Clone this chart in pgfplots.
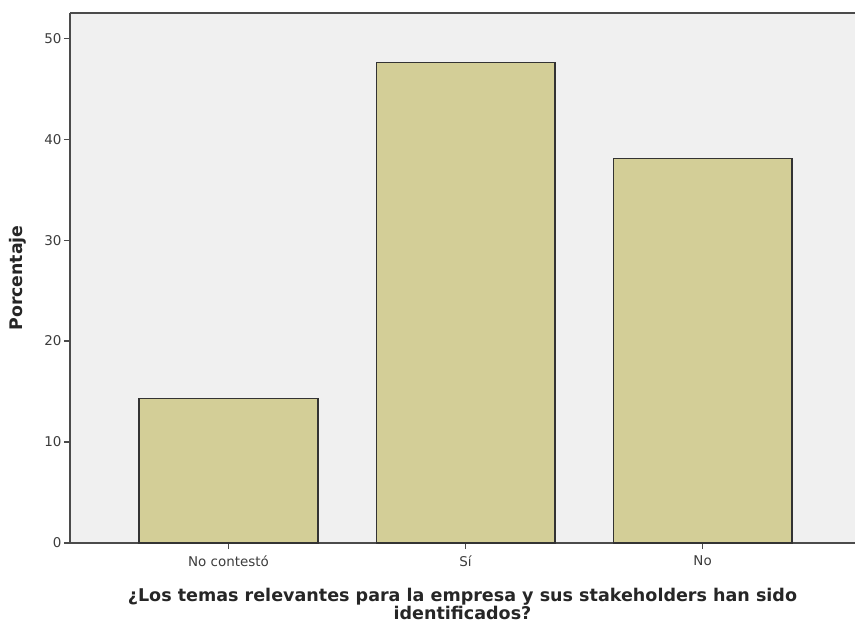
\documentclass[border=0pt]{standalone}
\usepackage{pgfplots}
\pgfplotsset{compat=1.18}
\usepackage{fontspec}
\setmainfont{DejaVu Sans}
\definecolor{plotbg}{RGB}{240,240,240}
\definecolor{barfill}{RGB}{211,206,151}
\definecolor{axisgray}{RGB}{75,75,75}
\definecolor{labelgray}{RGB}{60,60,60}

\begin{document}
\begin{tikzpicture}
\path[use as bounding box] (-70bp,-81bp) rectangle (785bp,543bp);
\begin{axis}[
  at={(0,0)}, anchor=south west,
  scale only axis, width=785bp, height=530bp,
  axis lines*=left,
  axis line style={axisgray, line width=1.5bp},
  axis background/.style={fill=plotbg},
  xmin=-0.669, xmax=2.643, ymin=0, ymax=52.5,
  xtick={0,1,2}, xticklabels={No contestó, Sí, No},
  ytick={0,10,...,50},
  tick align=outside, major tick length=6bp,
  tick style={axisgray, line width=1.2bp},
  /pgf/number format/assume math mode=true,
  ticklabel style={font=\fontsize{13.5}{15}\selectfont, text=labelgray},
  xticklabel style={yshift=-3.5bp},
  yticklabel style={xshift=1bp},
  every axis y label/.style={at={(axis description cs:0,0.5)}, xshift=-52bp,
    rotate=90, anchor=center, font=\bfseries\fontsize{17.4}{19}\selectfont, text=black!85},
  every axis x label/.style={at={(axis description cs:0.5,0)}, yshift=-61bp,
    anchor=center, align=center, font=\bfseries\fontsize{17.6}{17.5}\selectfont, text=black!85},
  ylabel={Porcentaje},
  xlabel={¿Los temas relevantes para la empresa y sus stakeholders han sido\\identificados?},
  ybar, bar width=0.755,
]
\addplot[fill=barfill, draw=black!80, line width=1.2bp] coordinates {(0,14.29) (1,47.62) (2,38.10)};
\draw[axisgray, line width=1.5bp] (rel axis cs:0,1) -- (rel axis cs:1,1);
\end{axis}
\end{tikzpicture}
\end{document}
